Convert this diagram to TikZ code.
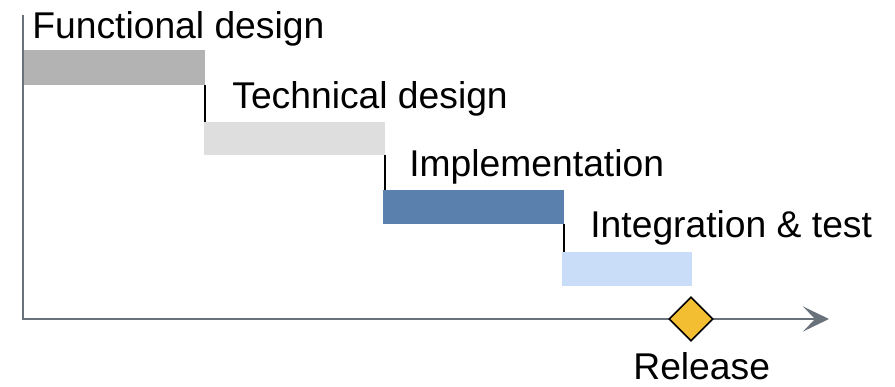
\documentclass[tikz,border=0pt]{standalone}
\usepackage{fontspec}
\setmainfont{Liberation Sans}
\usetikzlibrary{arrows.meta,shapes.geometric}

\definecolor{phaseA}{HTML}{B3B3B3}
\definecolor{phaseB}{HTML}{DEDEDE}
\definecolor{phaseC}{HTML}{5A81AD}
\definecolor{phaseD}{HTML}{C9DCF8}
\definecolor{axisgray}{HTML}{69717A}
\definecolor{milestone}{HTML}{F4BE33}

\begin{document}
\begin{tikzpicture}[
    bar/.style={rectangle, inner sep=0, minimum width=3.62cm, minimum height=0.68cm},
    phase/.style={anchor=base west, inner sep=0, font=\fontsize{21.2}{25}\selectfont},
    link/.style={line width=1.1pt, black}
]
    \useasboundingbox (0,0) rectangle (17.9,7.74);

    % time axis
    \coordinate (top) at (0.46,7.44);
    \coordinate (origin) at (0.46,1.36);
    \coordinate (tip) at (16.58,1.36);
    \draw[axisgray, line width=1.1pt, -{Stealth[length=0.52cm, width=0.5cm, inset=0.24cm]}] (top) -- (origin) -- (tip);

    % phases
    \node[bar, fill=phaseA, minimum height=0.70cm] (functional) at (2.29,6.39) {};
    \node[bar, fill=phaseB, minimum height=0.66cm] (technical) at (5.89,4.97) {};
    \node[bar, fill=phaseC] (implementation) at (9.47,3.60) {};
    \node[bar, fill=phaseD, minimum width=2.60cm] (integration) at (12.54,2.36) {};

    \node[phase] (lfunctional) at (0.64,6.96) {Functional design};
    \node[phase] (ltechnical) at (4.64,5.56) {Technical design};
    \node[phase] (limplementation) at (8.18,4.20) {Implementation};
    \node[phase] (lintegration) at (11.80,2.98) {Integration \& test};

    % finish-to-start links
    \draw[link] (functional.south east) -- (functional.south east |- technical.north);
    \draw[link] (technical.south east) -- (technical.south east |- implementation.north);
    \draw[link] (implementation.south east) -- (implementation.south east |- integration.north);

    % milestone
    \node[diamond, draw=black, line width=0.9pt, fill=milestone, inner sep=0, minimum size=0.88cm] (release) at (13.82,1.36) {};
    \node[phase] (lrelease) at (12.66,0.15) {Release};
\end{tikzpicture}
\end{document}
